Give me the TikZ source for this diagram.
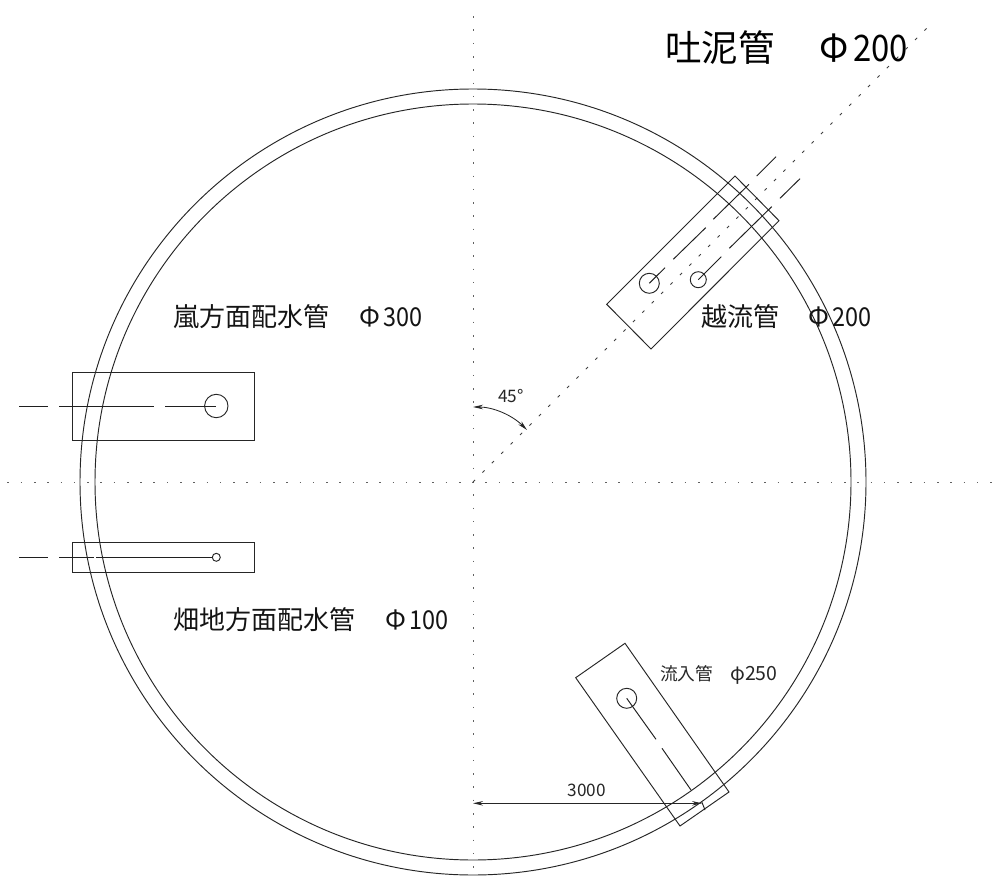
\documentclass[tikz,border=0pt]{standalone}
\usepackage{fontspec}
\setmainfont{Noto Sans CJK JP}
\newfontfamily\numnarrow[FakeStretch=0.9]{Noto Sans CJK JP}
\usetikzlibrary{arrows.meta}
\tikzset{
  ink/.style={draw=black!85,line width=0.95pt},
  centerdot/.style={draw=black!62,line width=1.6pt,dash pattern=on 1.6pt off 11.68pt},
  diagdot/.style={draw=black!75,line width=0.9pt,dash pattern=on 3pt off 10.3pt},
  pipeline/.style={draw=black!88,line width=0.95pt},
  dimarrow/.style={draw=black!85,line width=0.85pt,{Stealth[length=10pt,width=4.5pt]}-{Stealth[length=10pt,width=4.5pt]}},
  big/.style={anchor=base west,inner sep=0pt,text=black,font=\fontsize{36.5}{37}\selectfont},
  mid/.style={anchor=base west,inner sep=0pt,text=black!92,font=\fontsize{26}{27}\selectfont},
  sma/.style={anchor=base west,inner sep=0pt,text=black!85,font=\fontsize{17.7}{18}\selectfont}
}
\begin{document}
\begin{tikzpicture}[x=1pt,y=-1pt]
\useasboundingbox (0,0) rectangle (998,877);
\coordinate (c) at (473,482);
% centre lines
\draw[centerdot] (473.5,16.2) -- (473.5,877);
\draw[centerdot] (7.4,482.5) -- (998,482.5);
\draw[diagdot] (c) -- (931,24);
% ring
\draw[ink] (c) circle[radius=393];
\draw[ink] (c) circle[radius=378];
% top right plate
\draw[ink] (606.7,304.3) -- (651,349) -- (779,220.7) -- (735,176) -- cycle;
\draw[ink] (649.3,283.3) circle[radius=10];
\draw[ink] (698.3,279.7) circle[radius=8];
\draw[pipeline] (649.3,283.3) -- (665,267.7);
\draw[pipeline] (673.3,259.3) -- (705.7,227.7);
\draw[pipeline] (713.3,219.3) -- (749,184.3);
\draw[pipeline] (756.7,176) -- (776,156.7);
\draw[pipeline] (698.3,279.7) -- (721.3,256.7);
\draw[pipeline] (729.3,248.3) -- (771.7,206.7);
\draw[pipeline] (780,198.3) -- (800,178.7);
% left plates
\draw[ink] (72.3,372) rectangle (254.5,440);
\draw[ink] (216.3,406) circle[radius=11.7];
\draw[pipeline] (19.3,406) -- (48.3,406);
\draw[pipeline] (59,406) -- (154.3,406);
\draw[pipeline] (165,406) -- (216.3,406);
\draw[ink] (72.3,542.3) rectangle (254.5,572.3);
\draw[ink] (216.3,557.3) circle[radius=4];
\draw[pipeline] (19.3,557.3) -- (48.3,557.3);
\draw[pipeline] (59,557.3) -- (94,557.3);
\draw[pipeline] (96.3,557.3) -- (212.3,557.3);
% bottom plate
\draw[ink] (625,643.3) -- (575.7,677.7) -- (680,826) -- (729,792) -- cycle;
\draw[ink] (626.7,698.3) circle[radius=10];
\draw[pipeline] (626.7,698.3) -- (656,739.3);
\draw[pipeline] (662,748.3) -- (691,790);
\draw[pipeline] (701.7,801.7) -- (705,810);
% dimensions
\draw[dimarrow] (473,803.3) -- (702,803.3);
\draw[dimarrow] (473,407) .. controls (492.9,407) and (511.9,414.9) .. (527,430);
% labels
\node[big] (l1a) at (665,62) {吐泥管};
\node[big] (l1b) at (819.5,62) {Φ\kern4pt{\numnarrow 200}};
\node[mid] (l2a) at (173,326) {嵐方面配水管};
\node[mid] (l2b) at (359.5,326) {Φ\kern3pt{\numnarrow 300}};
\node[mid] (l3a) at (701,326) {越流管};
\node[mid] (l3b) at (808.5,326) {Φ\kern3pt{\numnarrow 200}};
\node[mid] (l4a) at (173,629) {畑地方面配水管};
\node[mid] (l4b) at (385.5,629) {Φ\kern3pt{\numnarrow 100}};
\node[sma] (l5a) at (660,680) {流入管};
\node[sma,font=\fontsize{19.5}{20}\selectfont] (l5b) at (730,680) {φ250};
\node[sma,font=\fontsize{17.2}{18}\selectfont] (l6) at (567.5,796) {3000};
\node[sma,font=\fontsize{17.2}{18}\selectfont] (l7) at (498,402) {45°};
\end{tikzpicture}
\end{document}
